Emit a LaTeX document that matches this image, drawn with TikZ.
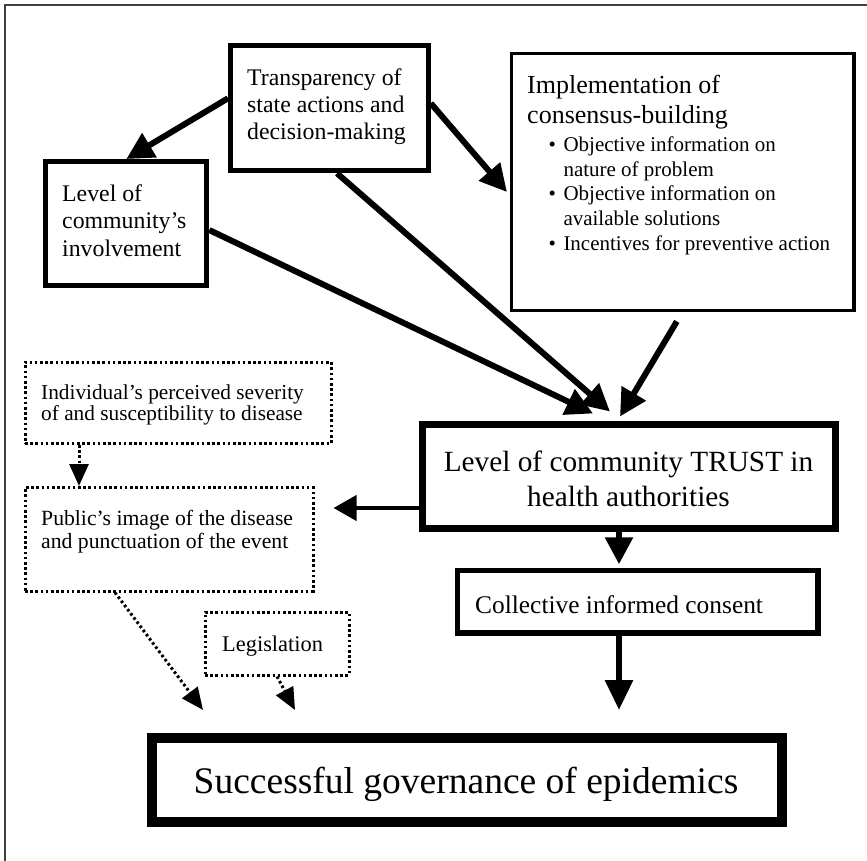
\documentclass[tikz,border=0pt]{standalone}
\usepackage{fontspec}
\setmainfont{Liberation Serif}
\usetikzlibrary{arrows.meta,calc,backgrounds}
\newcommand\mytxt[3]{\parbox[t]{500pt}{\fontsize{#1}{#2}\selectfont #3}}
\newcommand\mybul{\makebox[15pt][l]{•}}
\begin{document}
\begin{tikzpicture}[x=1pt,y=-1pt,
  box/.style={draw=black, fill=white, inner sep=0pt, rectangle},
  dbox/.style={draw=black, fill=white, inner sep=0pt, rectangle, line width=3pt, dash pattern=on 2.6pt off 2.6pt},
  txt/.style={anchor=base west, inner sep=0pt},
  sarrow/.style={line width=6pt, -{Triangle[length=27pt,width=27pt]}},
  darrow/.style={line width=3pt, dash pattern=on 2.6pt off 2.6pt, -{Triangle[length=22pt,width=19pt]}},
]
\useasboundingbox (0,0) rectangle (867,861);
\draw[line width=1.5pt, black!75] (5,861) -- (5,5) -- (867,5);

% boxes
\node[box, line width=5pt, minimum width=197.8pt, minimum height=125pt] (tr) at (329.4,108.3) {};
\node[box, line width=5pt, minimum width=161pt, minimum height=124.3pt] (inv) at (126.3,223.65) {};
\node[box, line width=3.5pt, minimum width=342.3pt, minimum height=257.4pt] (imp) at (682.85,182) {};
\node[dbox, minimum width=306pt, minimum height=81.5pt] (ind) at (178,402.75) {};
\node[dbox, minimum width=288pt, minimum height=103.5pt] (pub) at (169,539.25) {};
\node[dbox, minimum width=144pt, minimum height=63pt] (leg) at (277,643.5) {};
\node[box, line width=7pt, minimum width=413.5pt, minimum height=104.5pt] (trust) at (628.75,476.25) {};
\node[box, line width=5.5pt, minimum width=360.5pt, minimum height=62.5pt] (coll) at (637.75,601.75) {};
\node[box, line width=10pt, minimum width=630.3pt, minimum height=84pt] (succ) at (466.85,779.7) {};

% texts
\node[txt] (trT) at (247,86) {\mytxt{23.8}{27}{Transparency of\\state actions and\\decision-making}};
\node[txt] (invT) at (62,201.7) {\mytxt{23.8}{27.2}{Level of\\community’s\\involvement}};
\node[txt] (impT) at (527,94) {\mytxt{26}{29.3}{Implementation of\\consensus-building}};
\node[txt] (impB) at (548.3,151.7) {\mytxt{21}{24.6}{\mybul Objective information on\\\hspace*{15pt}nature of problem\\\mybul Objective information on\\\hspace*{15pt}available solutions\\\mybul Incentives for preventive action}};
\node[txt] (indT) at (41,399) {\mytxt{21.3}{21.5}{Individual’s perceived severity\\of and susceptibility to disease}};
\node[txt] (pubT) at (41,525) {\mytxt{21.7}{23.5}{Public’s image of the disease\\and punctuation of the event}};
\node[txt] (legT) at (222,651.7) {\mytxt{22.4}{24}{Legislation}};
\node[anchor=base, inner sep=0pt] (trustT) at (628.5,471.7) {\parbox[t]{413pt}{\centering\fontsize{29.3}{34.3}\selectfont Level of community TRUST in\\health authorities}};
\node[txt] (collT) at (475,613.3) {\mytxt{25.4}{28}{Collective informed consent}};
\node[anchor=base, inner sep=0pt] (succT) at (466,793) {\fontsize{37.5}{40}\selectfont Successful governance of epidemics};

% connectors
\begin{pgfonlayer}{background}
\draw[sarrow] ($(tr.west)+(0,-10)$) -- (inv.north);
\draw[sarrow] ($(tr.east)+(0,-5)$) -- ($(imp.west)+(-3,10)$);
\draw[sarrow] ($(inv.east)+(0,6.4)$) -- ($(trust.north)+(-35.75,-7)$);
\draw[sarrow] ($(tr.south)+(7.6,0)$) -- ($(trust.north)+(-18.75,-9)$);
\draw[sarrow] ($(imp.south)+(-6,9)$) -- ($(trust.north)+(-8.75,-4)$);
\draw[line width=4pt, -{Triangle[length=23pt,width=25pt]}] ($(trust.west)+(0,31.75)$) -- ($(pub.east)+(19,-31.25)$);
\draw[sarrow] ($(trust.south)+(-9.75,0)$) -- ($(coll.north)+(-18.75,-3.5)$);
\draw[line width=6pt, -{Triangle[length=30pt,width=27pt]}] ($(coll.south)+(-18.75,0)$) -- ($(succ.north)+(152.15,-22.7)$);
\draw[darrow] ($(ind.south)+(-99,0)$) -- ($(pub.north)+(-90,0)$);
\draw[darrow] ($(pub.south)+(-54,0)$) -- ($(succ.north)+(-263.85,-22.7)$);
\draw[darrow] (leg.south) -- ($(succ.north)+(-171.85,-22.7)$);
\end{pgfonlayer}
\end{tikzpicture}
\end{document}
